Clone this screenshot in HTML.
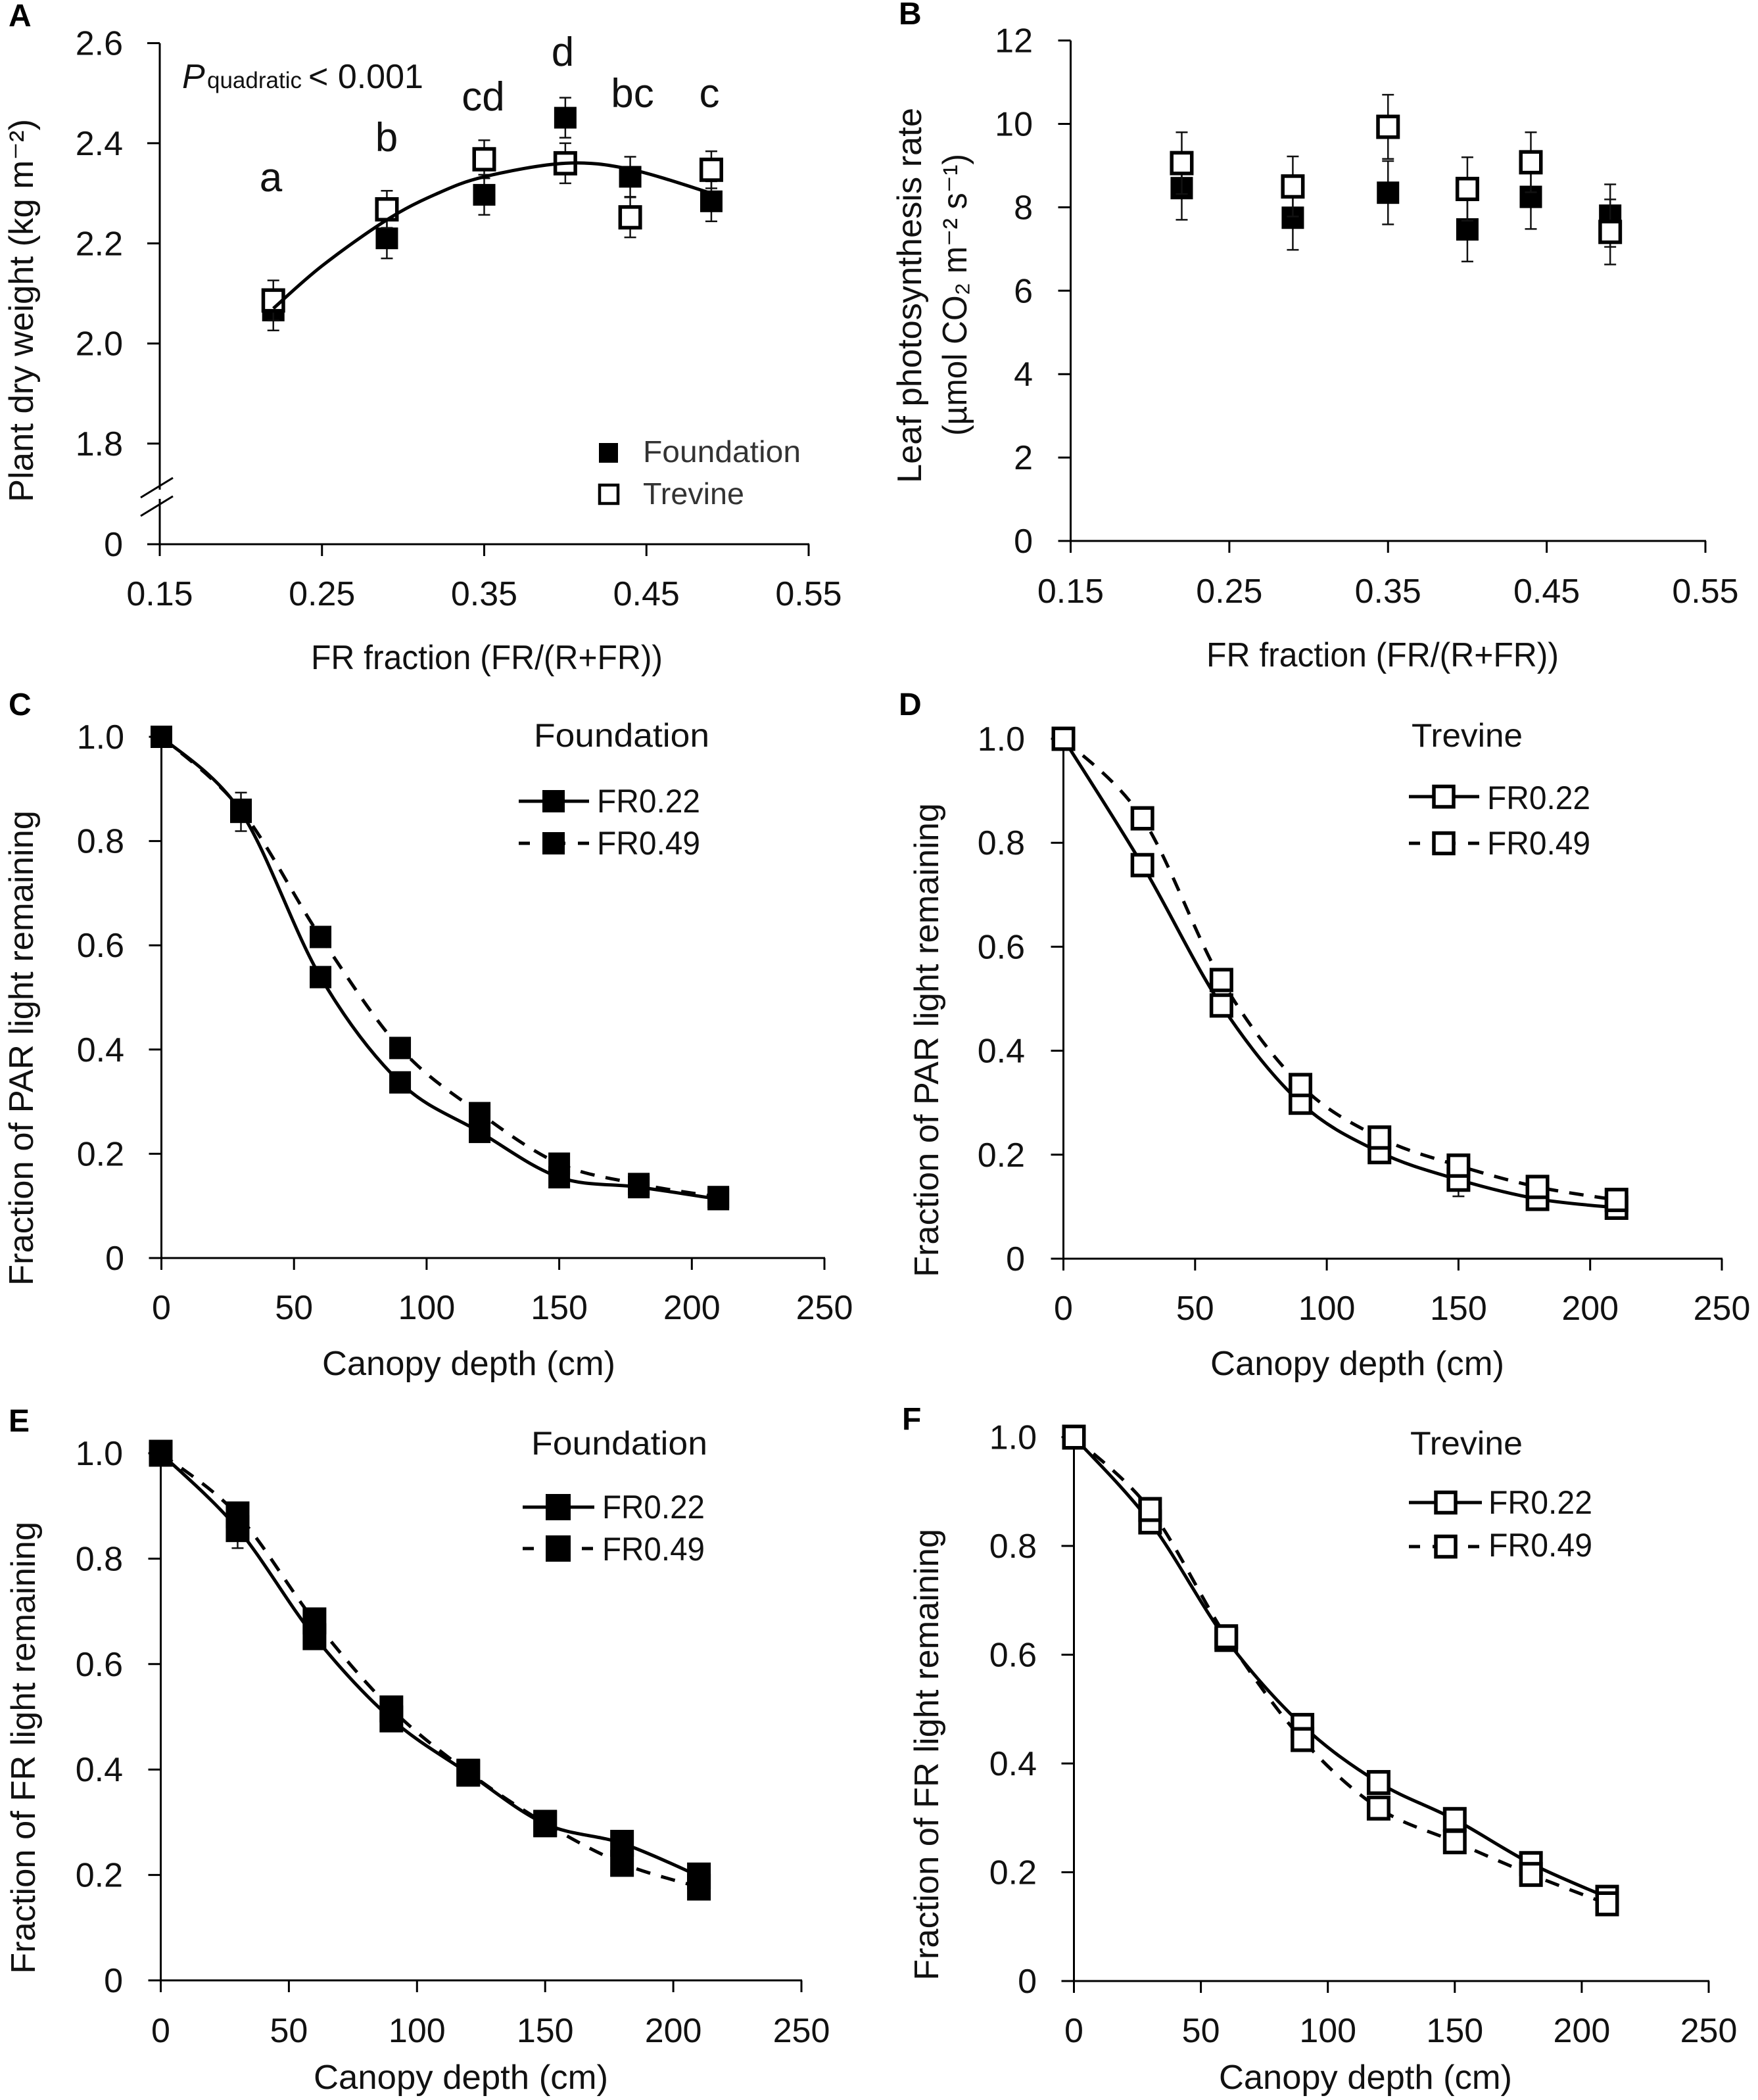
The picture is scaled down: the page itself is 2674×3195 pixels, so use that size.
<!DOCTYPE html>
<html lang="en">
<head>
<meta charset="utf-8">
<title>Far-red fraction effects on plant dry weight, photosynthesis and canopy light</title>
<style>
html,body{margin:0;padding:0;background:#fff;width:2674px;height:3195px;overflow:hidden}
svg{display:block}
text{font-family:"Liberation Sans",sans-serif;fill:#111}
.title{font-size:52px}
.letter{font-size:48px;font-weight:bold;fill:#000}
.sig{font-size:62px;text-anchor:middle}
.leg{font-size:50px}
</style>
</head>
<body>
<svg id="figure" xmlns="http://www.w3.org/2000/svg" width="2674" height="3195" viewBox="0 0 2674 3195">
  <rect width="2674" height="3195" fill="#fff"/>

  <g id="panelA">
    <text class="letter" x="13" y="40">A</text>
    <text class="title" transform="translate(50,764) rotate(-90)" textLength="583" lengthAdjust="spacingAndGlyphs">Plant dry weight (kg m⁻²)</text>
    <text class="title" x="473" y="1018" textLength="535" lengthAdjust="spacingAndGlyphs">FR fraction (FR/(R+FR))</text>
    <text y="134"><tspan x="277" font-size="52" font-style="italic">P</tspan><tspan x="315" font-size="35">quadratic</tspan><tspan x="469" font-size="52">&lt; 0.001</tspan></text>
    <text class="sig" x="412" y="291">a</text>
    <text class="sig" x="588" y="230">b</text>
    <text class="sig" x="735" y="168">cd</text>
    <text class="sig" x="856" y="100">d</text>
    <text class="sig" x="962" y="163">bc</text>
    <text class="sig" x="1079" y="163">c</text>
    <g>
      <rect x="911" y="674" width="29" height="30" fill="#000"/>
      <text x="978" y="703" font-size="46" style="fill:#333" textLength="240" lengthAdjust="spacingAndGlyphs">Foundation</text>
      <rect x="912" y="738" width="28" height="28" fill="#fff" stroke="#000" stroke-width="4.5"/>
      <text x="978" y="767" font-size="46" style="fill:#333" textLength="154" lengthAdjust="spacingAndGlyphs">Trevine</text>
    </g>
  </g>

  <g id="panelB">
    <text class="letter" x="1367" y="37">B</text>
    <text class="title" transform="translate(1401,735) rotate(-90)" textLength="571" lengthAdjust="spacingAndGlyphs">Leaf photosynthesis rate</text>
    <text class="title" transform="translate(1470,663) rotate(-90)" textLength="429" lengthAdjust="spacingAndGlyphs">(µmol CO₂ m⁻² s⁻¹)</text>
    <text class="title" x="1835" y="1014" textLength="536" lengthAdjust="spacingAndGlyphs">FR fraction (FR/(R+FR))</text>
  </g>

  <g id="panelC">
    <text class="letter" x="13" y="1088">C</text>
    <text class="title" transform="translate(50,1956) rotate(-90)" textLength="723" lengthAdjust="spacingAndGlyphs">Fraction of PAR light remaining</text>
    <text class="title" x="490" y="2092" textLength="446" lengthAdjust="spacingAndGlyphs">Canopy depth (cm)</text>
    <text class="leg" x="812" y="1136" textLength="267" lengthAdjust="spacingAndGlyphs">Foundation</text>
    <g>
      <line x1="789" x2="896" y1="1219" y2="1219" stroke="#000" stroke-width="5"/>
      <rect x="825" y="1202" width="34" height="34" fill="#000"/>
      <text class="leg" x="908" y="1236" textLength="157" lengthAdjust="spacingAndGlyphs">FR0.22</text>
      <line x1="789" x2="896" y1="1283" y2="1283" stroke="#000" stroke-width="5" stroke-dasharray="17 19 35 19 17"/>
      <rect x="825" y="1266" width="34" height="34" fill="#000"/>
      <text class="leg" x="908" y="1300" textLength="157" lengthAdjust="spacingAndGlyphs">FR0.49</text>
    </g>
  </g>

  <g id="panelD">
    <text class="letter" x="1367" y="1088">D</text>
    <text class="title" transform="translate(1427,1943) rotate(-90)" textLength="721" lengthAdjust="spacingAndGlyphs">Fraction of PAR light remaining</text>
    <text class="title" x="1841" y="2092" textLength="447" lengthAdjust="spacingAndGlyphs">Canopy depth (cm)</text>
    <text class="leg" x="2147" y="1136" textLength="169" lengthAdjust="spacingAndGlyphs">Trevine</text>
    <g>
      <line x1="2143" x2="2250" y1="1212" y2="1212" stroke="#000" stroke-width="5"/>
      <rect x="2181" y="1196.5" width="30" height="31" fill="#fff" stroke="#000" stroke-width="5.5"/>
      <text class="leg" x="2262" y="1231" textLength="157" lengthAdjust="spacingAndGlyphs">FR0.22</text>
      <line x1="2143" x2="2250" y1="1283" y2="1283" stroke="#000" stroke-width="5" stroke-dasharray="17 19 35 19 17"/>
      <rect x="2181" y="1267.5" width="30" height="31" fill="#fff" stroke="#000" stroke-width="5.5"/>
      <text class="leg" x="2262" y="1300" textLength="157" lengthAdjust="spacingAndGlyphs">FR0.49</text>
    </g>
  </g>

  <g id="panelE">
    <text class="letter" x="13" y="2178">E</text>
    <text class="title" transform="translate(53,3003) rotate(-90)" textLength="688" lengthAdjust="spacingAndGlyphs">Fraction of FR light remaining</text>
    <text class="title" x="477" y="3178" textLength="448" lengthAdjust="spacingAndGlyphs">Canopy depth (cm)</text>
    <text class="leg" x="808" y="2213" textLength="268" lengthAdjust="spacingAndGlyphs">Foundation</text>
    <g>
      <line x1="795" x2="904" y1="2293" y2="2293" stroke="#000" stroke-width="5"/>
      <rect x="830" y="2273" width="38" height="40" fill="#000"/>
      <text class="leg" x="916" y="2310" textLength="156" lengthAdjust="spacingAndGlyphs">FR0.22</text>
      <line x1="795" x2="904" y1="2356" y2="2356" stroke="#000" stroke-width="5" stroke-dasharray="17 19 35 19 17"/>
      <rect x="830" y="2336" width="38" height="40" fill="#000"/>
      <text class="leg" x="916" y="2374" textLength="156" lengthAdjust="spacingAndGlyphs">FR0.49</text>
    </g>
  </g>

  <g id="panelF">
    <text class="letter" x="1372" y="2175">F</text>
    <text class="title" transform="translate(1427,3013) rotate(-90)" textLength="687" lengthAdjust="spacingAndGlyphs">Fraction of FR light remaining</text>
    <text class="title" x="1854" y="3178" textLength="446" lengthAdjust="spacingAndGlyphs">Canopy depth (cm)</text>
    <text class="leg" x="2145" y="2213" textLength="171" lengthAdjust="spacingAndGlyphs">Trevine</text>
    <g>
      <line x1="2143" x2="2254" y1="2286" y2="2286" stroke="#000" stroke-width="5"/>
      <rect x="2184" y="2270.5" width="30" height="31" fill="#fff" stroke="#000" stroke-width="5.5"/>
      <text class="leg" x="2264" y="2303" textLength="158" lengthAdjust="spacingAndGlyphs">FR0.22</text>
      <line x1="2143" x2="2254" y1="2353" y2="2353" stroke="#000" stroke-width="5" stroke-dasharray="17 19 35 19 17"/>
      <rect x="2184" y="2337.5" width="30" height="31" fill="#fff" stroke="#000" stroke-width="5.5"/>
      <text class="leg" x="2264" y="2368" textLength="158" lengthAdjust="spacingAndGlyphs">FR0.49</text>
    </g>
  </g>
</svg>

<script>
// ---- shared categories and tick labels ----
const frCategories = [0.22, 0.29, 0.35, 0.40, 0.44, 0.49];
const depthCategories = [0, 30, 60, 90, 120, 150, 180, 210];
const frTickValues = [0.15, 0.25, 0.35, 0.45, 0.55];
const frTickLabels = ['0.15', '0.25', '0.35', '0.45', '0.55'];
const depthTickValues = [0, 50, 100, 150, 200, 250];
const depthTickLabels = ['0', '50', '100', '150', '200', '250'];
const fractionTickValues = [0, 0.2, 0.4, 0.6, 0.8, 1.0];
const fractionTickLabels = ['0', '0.2', '0.4', '0.6', '0.8', '1.0'];

// ---- panel A ----
const dryWeightTickValues = [0, 1.8, 2.0, 2.2, 2.4, 2.6];
const dryWeightTickLabels = ['0', '1.8', '2.0', '2.2', '2.4', '2.6'];
const dryWeightFoundation = [2.066, 2.21, 2.297, 2.451, 2.333, 2.284];
const dryWeightFoundationErr = [0.04, 0.04, 0.04, 0.04, 0.04, 0.04];
const dryWeightTrevine = [2.086, 2.268, 2.368, 2.36, 2.252, 2.347];
const dryWeightTrevineErr = [0.04, 0.037, 0.038, 0.04, 0.04, 0.037];
const trendCategories = [0.22, 0.25, 0.29, 0.32, 0.35, 0.40, 0.44, 0.49];
const dryWeightTrend = [2.07, 2.155, 2.247, 2.298, 2.333, 2.36, 2.348, 2.30];

// ---- panel B ----
const photoTickValues = [0, 2, 4, 6, 8, 10, 12];
const photoTickLabels = ['0', '2', '4', '6', '8', '10', '12'];
const photoFoundation = [8.46, 7.75, 8.35, 7.47, 8.25, 7.8];
const photoFoundationErr = [0.76, 0.77, 0.76, 0.77, 0.77, 0.75];
const photoTrevine = [9.06, 8.5, 9.93, 8.44, 9.08, 7.41];
const photoTrevineErr = [0.74, 0.72, 0.77, 0.76, 0.72, 0.78];

// ---- panel C ----
const parFoundation022 = [1.0, 0.856, 0.539, 0.337, 0.242, 0.155, 0.136, 0.113];
const parFoundation049 = [1.0, 0.86, 0.616, 0.403, 0.278, 0.181, 0.142, 0.117];
const parFoundationErr = [0, 0.037, 0, 0, 0, 0, 0, 0];

// ---- panel D ----
const parTrevine022 = [1.0, 0.757, 0.487, 0.30, 0.205, 0.152, 0.115, 0.098];
const parTrevine049 = [1.0, 0.847, 0.536, 0.334, 0.233, 0.179, 0.138, 0.113];
const parTrevineErr = [0, 0, 0, 0, 0, 0.032, 0, 0];

// ---- panel E ----
const frFoundation022 = [1.0, 0.857, 0.652, 0.496, 0.393, 0.297, 0.26, 0.198];
const frFoundation049 = [1.0, 0.883, 0.682, 0.515, 0.395, 0.298, 0.222, 0.177];
const frFoundationErr = [0, 0.037, 0, 0, 0, 0, 0, 0];

// ---- panel F ----
const frTrevine022 = [1.0, 0.844, 0.628, 0.47, 0.365, 0.297, 0.216, 0.154];
const frTrevine049 = [1.0, 0.867, 0.633, 0.444, 0.318, 0.256, 0.196, 0.142];
const frTrevineErr = [0, 0, 0, 0, 0, 0, 0, 0];

const SVGNS = 'http://www.w3.org/2000/svg';

function linear(d0, d1, p0, p1) {
  return function (v) { return p0 + (v - d0) * (p1 - p0) / (d1 - d0); };
}

function make(parent, tag, attrs) {
  const n = document.createElementNS(SVGNS, tag);
  for (const k in attrs) n.setAttribute(k, attrs[k]);
  parent.appendChild(n);
  return n;
}

function drawAxes(g, sx, sy, xVals, xLabs, yVals, yLabs, yTopValue, opts) {
  const x0 = sx(xVals[0]), y0 = sy(yVals[0]);
  const xEnd = sx(xVals[xVals.length - 1]), yEnd = sy(yTopValue);
  const yAxis = make(g, 'line', {x1: x0, x2: x0, y1: y0, y2: yEnd, stroke: '#000', 'stroke-width': 3});
  
  
  const xAxis = make(g, 'line', {x1: x0 - 19, x2: xEnd + 1, y1: y0, y2: y0, stroke: '#000', 'stroke-width': 3});
  
  
  yVals.forEach(function (v, i) {
    const y = sy(v);
    const t = make(g, 'line', {x1: x0 - 19, x2: x0, y1: y, y2: y, stroke: '#000', 'stroke-width': 3});
    
    
    const l = make(g, 'text', {x: opts.yLabelRight, y: y + 18, 'font-size': 52, 'text-anchor': 'end'});
    
    
    l.textContent = yLabs[i];
  });
  xVals.forEach(function (v, i) {
    const x = sx(v);
    const t = make(g, 'line', {x1: x, x2: x, y1: y0, y2: y0 + 18, stroke: '#000', 'stroke-width': 3});
    
    
    const l = make(g, 'text', {x: x, y: opts.xLabelBaseline, 'font-size': 52, 'text-anchor': 'middle'});
    
    
    l.textContent = xLabs[i];
  });
}

function smoothPath(points) {
  let d = 'M' + points[0][0] + ' ' + points[0][1];
  for (let i = 0; i < points.length - 1; i++) {
    const p0 = points[Math.max(i - 1, 0)], p1 = points[i], p2 = points[i + 1];
    const p3 = points[Math.min(i + 2, points.length - 1)];
    const c1x = p1[0] + (p2[0] - p0[0]) / 6, c1y = p1[1] + (p2[1] - p0[1]) / 6;
    const c2x = p2[0] - (p3[0] - p1[0]) / 6, c2y = p2[1] - (p3[1] - p1[1]) / 6;
    d += ' C' + c1x + ' ' + c1y + ' ' + c2x + ' ' + c2y + ' ' + p2[0] + ' ' + p2[1];
  }
  return d;
}

function drawCurve(g, xs, ys, sx, sy, dashed) {
  const pts = xs.map(function (x, i) { return [sx(x), sy(ys[i])]; });
  const p = make(g, 'path', {d: smoothPath(pts), fill: 'none', stroke: '#000', 'stroke-width': 5});
  if (dashed) p.setAttribute('stroke-dasharray', '22 17');
  
  
}

function drawErrors(g, xs, ys, errs, sx, sy) {
  xs.forEach(function (x, i) {
    if (!errs[i]) return;
    const px = sx(x), up = sy(ys[i] + errs[i]), lo = sy(ys[i] - errs[i]);
    const body = make(g, 'path', {
      d: 'M' + px + ' ' + up + 'V' + lo + 'M' + (px - 9) + ' ' + up + 'H' + (px + 9) + 'M' + (px - 9) + ' ' + lo + 'H' + (px + 9),
      fill: 'none', stroke: '#111', 'stroke-width': 2.5
    });
    
    
  });
}

function drawMarkers(g, xs, ys, sx, sy, filled, w, h) {
  xs.forEach(function (x, i) {
    const px = sx(x), py = sy(ys[i]);
    const sw = filled ? 0 : 5.5;
    const rw = filled ? w : w - sw, rh = filled ? h : h - sw;
    const r = make(g, 'rect', {x: px - rw / 2, y: py - rh / 2, width: rw, height: rh, fill: filled ? '#000' : '#fff'});
    if (!filled) {
      r.setAttribute('stroke', '#000');
      r.setAttribute('stroke-width', sw);
    }
    
    
  });
}

function drawBreak(g, x, y) {
  const a = make(g, 'path', {d: 'M' + (x - 29) + ' ' + (y + 2) + 'L' + (x + 20) + ' ' + (y - 28), stroke: '#000', 'stroke-width': 3, fill: 'none'});
  
  
  const b = make(g, 'path', {d: 'M' + (x - 29) + ' ' + (y + 30) + 'L' + (x + 20) + ' ' + y, stroke: '#000', 'stroke-width': 3, fill: 'none'});
  
  
  const gap = make(g, 'rect', {x: x - 3, y: y - 10, width: 6, height: 14, fill: '#fff'});
  
  
}

// Panel A
(function () {
  const g = document.getElementById('panelA');
  const sx = linear(0.15, 0.55, 243, 1230);
  const upper = linear(2.0, 2.6, 522.6, 65.6);
  const sy = function (v) { return v === 0 ? 828 : upper(v); };
  drawAxes(g, sx, sy, frTickValues, frTickLabels, dryWeightTickValues, dryWeightTickLabels, 2.6, {yLabelRight: 187, xLabelBaseline: 921});
  drawBreak(g, 243, 755);
  drawErrors(g, frCategories, dryWeightFoundation, dryWeightFoundationErr, sx, sy);
  drawMarkers(g, frCategories, dryWeightFoundation, sx, sy, true, 34, 33);
  drawErrors(g, frCategories, dryWeightTrevine, dryWeightTrevineErr, sx, sy);
  drawMarkers(g, frCategories, dryWeightTrevine, sx, sy, false, 36, 37);
  drawCurve(g, trendCategories, dryWeightTrend, sx, sy, false);
})();

// Panel B
(function () {
  const g = document.getElementById('panelB');
  const sx = linear(0.15, 0.55, 1628.5, 2594);
  const sy = linear(0, 12, 823, 61.6);
  drawAxes(g, sx, sy, frTickValues, frTickLabels, photoTickValues, photoTickLabels, 12, {yLabelRight: 1571, xLabelBaseline: 917});
  drawErrors(g, frCategories, photoFoundation, photoFoundationErr, sx, sy);
  drawMarkers(g, frCategories, photoFoundation, sx, sy, true, 34, 34);
  drawErrors(g, frCategories, photoTrevine, photoTrevineErr, sx, sy);
  drawMarkers(g, frCategories, photoTrevine, sx, sy, false, 36, 37);
})();

function depthPanel(id, x0, x1, y0, y1, labelRight, labelBase, s22, s49, errs, filled, w, h) {
  const g = document.getElementById(id);
  const sx = linear(0, 250, x0, x1);
  const sy = linear(0, 1, y0, y1);
  drawAxes(g, sx, sy, depthTickValues, depthTickLabels, fractionTickValues, fractionTickLabels, 1, {yLabelRight: labelRight, xLabelBaseline: labelBase});
  drawErrors(g, depthCategories, s22, errs, sx, sy);
  drawCurve(g, depthCategories, s22, sx, sy, false);
  drawCurve(g, depthCategories, s49, sx, sy, true);
  drawMarkers(g, depthCategories, s22, sx, sy, filled, w, h);
  drawMarkers(g, depthCategories, s49, sx, sy, filled, w, h);
}

depthPanel('panelC', 245.5, 1254, 1914, 1121, 189, 2007, parFoundation022, parFoundation049, parFoundationErr, true, 33, 34);
depthPanel('panelD', 1617.5, 2619, 1915, 1124, 1559, 2008, parTrevine022, parTrevine049, parTrevineErr, false, 36, 37);
depthPanel('panelE', 244.5, 1219, 3013, 2211, 187, 3107, frFoundation022, frFoundation049, frFoundationErr, true, 36, 41);
depthPanel('panelF', 1633.5, 2599, 3014, 2186.5, 1577, 3107, frTrevine022, frTrevine049, frTrevineErr, false, 36, 38);
</script>
</body>
</html>
